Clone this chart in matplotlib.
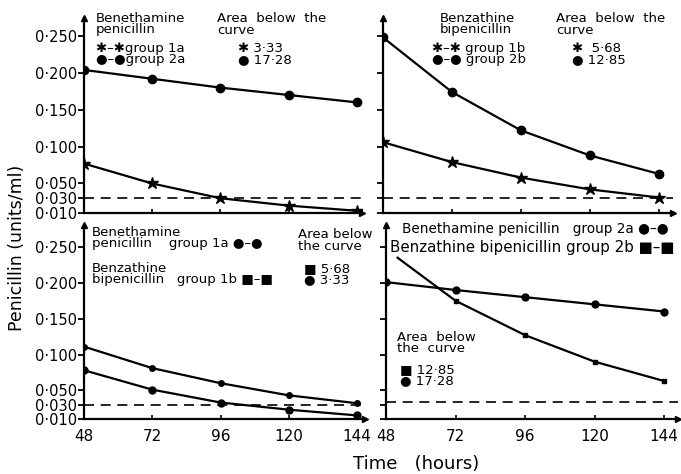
import matplotlib
matplotlib.use('Agg')
import matplotlib.pyplot as plt

W, H = 681, 474

hours = [48, 72, 96, 120, 144]
yticks = [0.010, 0.030, 0.050, 0.100, 0.150, 0.200, 0.250]
ytick_labels = ['0·010', '0·030', '0·050', '0·100', '0·150', '0·200', '0·250']

# top left: benethamine penicillin
tl_2a = [0.204, 0.192, 0.180, 0.170, 0.160]
tl_1a = [0.077, 0.050, 0.030, 0.020, 0.013]
# top right: benzathine bipenicillin
tr_2b = [0.248, 0.174, 0.122, 0.088, 0.063]
tr_1b = [0.106, 0.079, 0.058, 0.042, 0.031]
# bottom left: group 1a vs 1b
bl_1b = [0.111, 0.081, 0.060, 0.043, 0.032]
bl_1a = [0.078, 0.051, 0.033, 0.023, 0.015]
# bottom right: group 2a vs 2b
br_2a = [0.201, 0.190, 0.180, 0.170, 0.160]
br_2b_hours = [52, 72, 96, 120, 144]
br_2b = [0.235, 0.175, 0.127, 0.090, 0.063]

mic = 0.030
mic_br = 0.034

plt.rcParams['font.family'] = 'DejaVu Sans'
fig = plt.figure(figsize=(W / 100, H / 100), dpi=100)


def make_ax(x0, x1, y0, y1, xlim, ylim, ylabels, xlabels):
    ax = fig.add_axes([x0 / W, 1 - y1 / H, (x1 - x0) / W, (y1 - y0) / H])
    ax.set_xlim(*xlim)
    ax.set_ylim(*ylim)
    for s in ['top', 'right']:
        ax.spines[s].set_visible(False)
    for s in ['left', 'bottom']:
        ax.spines[s].set_linewidth(1.6)
    ax.set_yticks(yticks)
    if ylabels:
        ax.set_yticklabels(ytick_labels, fontsize=10.5)
    else:
        ax.set_yticklabels([])
    ax.set_xticks(hours)
    if xlabels:
        ax.set_xticklabels([str(h) for h in hours], fontsize=11)
    else:
        ax.set_xticklabels([])
    ax.tick_params(axis='y', direction='out', length=4, width=1.3, pad=1)
    ax.tick_params(axis='x', direction='in', length=3, width=1.2, pad=7)
    ax.plot([0], [1], marker='^', ms=4, color='k', transform=ax.transAxes, clip_on=False)
    ax.plot([1], [0], marker='>', ms=4, color='k', transform=ax.transAxes, clip_on=False)
    return ax


def ftext(x, y, s, size=9.5, **kw):
    fig.text(x / W, 1 - y / H, s, fontsize=size, va='top', ha='left', linespacing=0.85, **kw)


line_kw = dict(color='k', lw=1.6)
dash_kw = dict(color='k', lw=1.2, ls=(0, (6, 4)))

# top left
ax1 = make_ax(84, 362, 18, 213, (48, 145.8), (0.010, 0.2744), True, False)
ax1.plot(hours, tl_2a, marker='o', ms=6, **line_kw)
ax1.plot(hours, tl_1a, marker='*', ms=9, **line_kw)
ax1.axhline(mic, **dash_kw)

# top right
ax2 = make_ax(383, 673, 18, 213, (48, 148.9), (0.010, 0.2744), False, False)
ax2.plot(hours, tr_2b, marker='o', ms=6, **line_kw)
ax2.plot(hours, tr_1b, marker='*', ms=9, **line_kw)
ax2.axhline(mic, **dash_kw)

# bottom left
ax3 = make_ax(84, 365, 225, 419, (48, 146.8), (0.010, 0.2807), True, True)
ax3.plot(hours, bl_1b, marker='o', ms=4, **line_kw)
ax3.plot(hours, bl_1a, marker='o', ms=5, **line_kw)
ax3.axhline(mic, **dash_kw)

# bottom right
ax4 = make_ax(386, 678, 225, 419, (48, 148.8), (0.010, 0.2807), False, True)
ax4.plot(hours, br_2a, marker='o', ms=5, **line_kw)
ax4.plot(br_2b_hours, br_2b, marker='s', ms=2.5, markevery=[1, 2, 3, 4], **line_kw)
ax4.axhline(mic_br, **dash_kw)

# legends, top left
ftext(96, 12, 'Benethamine\npenicillin')
ftext(96, 42, '✱–✱group 1a\n●–●group 2a')
ftext(217, 12, 'Area  below  the\ncurve')
ftext(238, 42, '✱ 3·33\n● 17·28')

# legends, top right
ftext(440, 12, 'Benzathine\nbipenicillin')
ftext(432, 42, '✱–✱ group 1b\n●–● group 2b')
ftext(556, 12, 'Area  below  the\ncurve')
ftext(572, 42, '✱  5·68\n● 12·85')

# legends, bottom left
ftext(92, 226, 'Benethamine\npenicillin    group 1a ●–●')
ftext(92, 262, 'Benzathine\nbipenicillin   group 1b ■–■')
ftext(298, 228, 'Area below\nthe curve')
ftext(304, 262, '■ 5·68\n● 3·33')

# legends, bottom right
ftext(402, 222, 'Benethamine penicillin   group 2a ●–●', size=9.8)
ftext(390, 240, 'Benzathine bipenicillin group 2b ■–■', size=10.8)
ftext(397, 331, 'Area  below\nthe  curve')
ftext(400, 363, '■ 12·85\n● 17·28')

fig.text(17 / W, 1 - 248 / H, 'Penicillin (units/ml)', rotation=90, fontsize=12.5,
         ha='center', va='center')
fig.text(416 / W, 1 - 464 / H, 'Time   (hours)', fontsize=13, ha='center', va='center')

fig.savefig('out.png', dpi=100)
